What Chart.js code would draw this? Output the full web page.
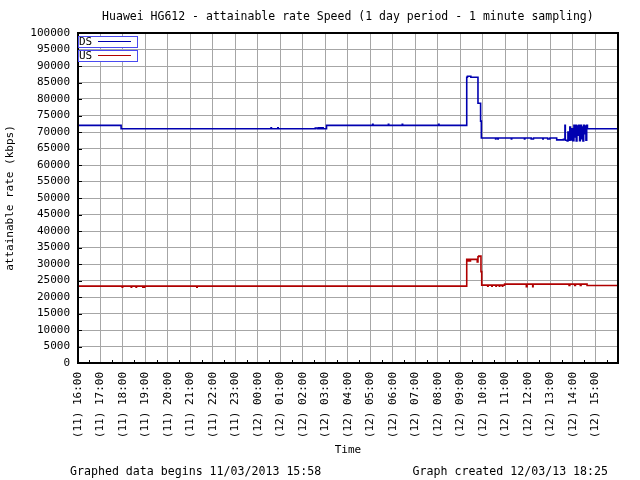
<!DOCTYPE html>
<html><head><meta charset="utf-8">
<script src="https://cdn.jsdelivr.net/npm/chart.js@4.4.0/dist/chart.umd.min.js"></script>
<style>html,body{margin:0;padding:0;background:#fff}#wrap{width:640px;height:480px}</style>
</head><body><div id="wrap"><canvas id="c" width="640" height="480"></canvas></div>
<script>
const chartTitle = "Huawei HG612 - attainable rate Speed (1 day period - 1 minute sampling)";
const yAxisTitle = "attainable rate (kbps)";
const xAxisTitle = "Time";
const footerLeft = "Graphed data begins 11/03/2013 15:58";
const footerRight = "Graph created 12/03/13 18:25";
const xTickLabels = ["(11) 16:00","(11) 17:00","(11) 18:00","(11) 19:00","(11) 20:00","(11) 21:00","(11) 22:00","(11) 23:00",
  "(12) 00:00","(12) 01:00","(12) 02:00","(12) 03:00","(12) 04:00","(12) 05:00","(12) 06:00","(12) 07:00",
  "(12) 08:00","(12) 09:00","(12) 10:00","(12) 11:00","(12) 12:00","(12) 13:00","(12) 14:00","(12) 15:00"];

const dsTimes = ["11 16:00","11 17:55",
  "12 00:35","12 00:36","12 00:53","12 00:54",
  "12 02:33","12 02:38","12 02:42","12 02:46","12 02:50","12 02:54",
  "12 03:03","12 05:06","12 05:07","12 05:48","12 05:49","12 06:25","12 06:26","12 08:02","12 08:03",
  "12 09:17","12 09:19","12 09:28","12 09:47","12 09:54","12 09:56",
  "12 10:34","12 10:35","12 10:40","12 10:41","12 11:16","12 11:17","12 11:51","12 11:52",
  "12 12:09","12 12:15","12 12:40","12 12:41","12 12:53","12 12:59","12 13:17",
  "12 13:35","12 13:39","12 13:40","12 13:45","12 13:47","12 13:49","12 13:52","12 13:54","12 13:58",
  "12 14:00","12 14:03","12 14:05","12 14:07","12 14:09","12 14:11","12 14:13","12 14:15","12 14:18",
  "12 14:20","12 14:23","12 14:25","12 14:27","12 14:29","12 14:31","12 14:33","12 14:35","12 14:37",
  "12 14:39","12 15:59"];
const dsValues = [72000,71000,
  71300,71000,71300,71000,
  71200,71000,71300,71000,71300,71000,
  72000,72300,72000,72300,72000,72300,72000,72300,72000,
  86600,86900,86600,78700,73300,68200,
  67900,68200,67900,68200,67900,68200,67900,68200,
  67900,68200,67900,68200,67900,68200,67600,
  67800,72000,67500,67300,70000,67500,71500,67600,71000,
  67400,72000,68500,72000,67300,71800,69000,72000,67400,
  72000,68000,71500,67300,72000,69500,71800,67500,72000,
  71000,71000];

const usTimes = ["11 16:00","11 17:58","11 17:59","11 18:22","11 18:23","11 18:35","11 18:36","11 18:53","11 18:54",
  "11 18:57","11 18:58","11 21:17","11 21:18",
  "12 09:17","12 09:19","12 09:20","12 09:23","12 09:24","12 09:26","12 09:27",
  "12 09:45","12 09:47","12 09:49","12 09:55","12 09:57",
  "12 10:13","12 10:14","12 10:24","12 10:25","12 10:35","12 10:36","12 10:44","12 10:45","12 10:52","12 10:53",
  "12 10:58","12 11:56","12 11:58","12 12:13","12 12:14",
  "12 13:50","12 13:52","12 14:05","12 14:07","12 14:20","12 14:22",
  "12 14:38","12 15:59"];
const usValues = [23300,23000,23300,23000,23300,23000,23300,23000,23300,
  23000,23300,23000,23300,
  31400,30900,31400,30900,31400,30900,31400,
  30600,32200,32400,27700,23600,
  23300,23600,23300,23600,23300,23600,23300,23600,23300,23600,
  23900,23100,23900,23100,23900,
  23500,23900,23500,23900,23500,23900,
  23500,23500];

const FONT = "'DejaVu Sans Mono', 'Liberation Mono', monospace";
function toHours(s){
  const [d, hm] = s.split(' ');
  const [h, m] = hm.split(':').map(Number);
  return (Number(d) - 11) * 24 + h + m / 60 - 16;
}
function series(times, values){ return times.map((t, i) => ({x: toHours(t), y: values[i]})); }

const decorPlugin = {
  id: 'decor',
  afterDraw(chart){
    const {ctx, chartArea: a, scales} = chart;
    const xs = scales.x, ys = scales.y;
    ctx.save();
    ctx.strokeStyle = '#000'; ctx.lineWidth = 1;
    ctx.beginPath();
    for (let v = 0; v <= 100000; v += 5000){
      const y = Math.round(ys.getPixelForValue(v)) + 0.5;
      ctx.moveTo(a.left, y); ctx.lineTo(a.left + 4, y);
    }
    for (let h = 0.5; h < 24; h += 1){
      const x = Math.round(xs.getPixelForValue(h)) + 0.5;
      ctx.moveTo(x, a.bottom); ctx.lineTo(x, a.bottom - 3);
    }
    ctx.stroke();
    ctx.lineWidth = 2;
    ctx.strokeRect(Math.round(a.left), Math.round(a.top), Math.round(a.right - a.left), Math.round(a.bottom - a.top));
    ctx.font = "11px " + FONT;
    ctx.textBaseline = 'middle'; ctx.textAlign = 'left';
    chart.data.datasets.forEach((ds, i) => {
      const top = a.top + 3.5 + i * 14;
      ctx.fillStyle = '#fff';
      ctx.fillRect(a.left, top, 59, 11);
      ctx.strokeStyle = '#4a4af0'; ctx.lineWidth = 1;
      ctx.strokeRect(a.left + 0.5, top, 59, 11);
      ctx.fillStyle = '#000';
      ctx.fillText(ds.label, a.left + 1, top + 6);
      ctx.strokeStyle = ds.borderColor; ctx.lineWidth = 1;
      ctx.beginPath();
      ctx.moveTo(a.left + 20, top + 5); ctx.lineTo(a.left + 53, top + 5);
      ctx.stroke();
    });
    ctx.font = "11.6px " + FONT;
    ctx.fillStyle = '#000';
    ctx.textAlign = 'left';
    ctx.fillText(footerLeft, 70, 472);
    ctx.textAlign = 'right';
    ctx.fillText(footerRight, 608, 472);
    ctx.restore();
  }
};

new Chart(document.getElementById('c'), {
  type: 'line',
  data: {
    datasets: [
      {label: 'DS', data: series(dsTimes, dsValues), borderColor: '#0000b0', borderWidth: 1.6, pointRadius: 0, stepped: 'before', tension: 0},
      {label: 'US', data: series(usTimes, usValues), borderColor: '#b00000', borderWidth: 1.6, pointRadius: 0, stepped: 'before', tension: 0}
    ]
  },
  options: {
    responsive: false,
    animation: false,
    layout: {padding: {left: 0, right: 21, top: 0, bottom: 17}},
    plugins: {
      legend: {display: false},
      tooltip: {enabled: false},
      title: {display: true, text: chartTitle, fullSize: false, color: '#000',
        font: {family: FONT, size: 11.5, weight: 'normal'}, padding: {top: 10, bottom: 9.2}}
    },
    scales: {
      x: {
        type: 'linear', min: 0, max: 24,
        grid: {color: '#a6a6a6', lineWidth: 1, drawTicks: false},
        border: {display: false},
        ticks: {stepSize: 1, autoSkip: false, minRotation: 90, maxRotation: 90, padding: 9, color: '#000',
          font: {family: FONT, size: 11},
          callback: (v) => xTickLabels[v] !== undefined ? xTickLabels[v] : ''},
        title: {display: true, text: xAxisTitle, color: '#000', font: {family: FONT, size: 11}, padding: {top: 0, bottom: 6.4}},
        afterFit: (s) => { s.height = 100; }
      },
      y: {
        min: 0, max: 100000,
        grid: {color: '#a6a6a6', lineWidth: 1, drawTicks: false},
        border: {display: false},
        ticks: {stepSize: 5000, padding: 8, color: '#000', font: {family: FONT, size: 11}, callback: (v) => String(v)},
        title: {display: true, text: yAxisTitle, color: '#000', font: {family: FONT, size: 11}, padding: {top: 4, bottom: 0}},
        afterFit: (s) => { s.width = 78; }
      }
    }
  },
  plugins: [decorPlugin]
});
</script>
</body></html>
